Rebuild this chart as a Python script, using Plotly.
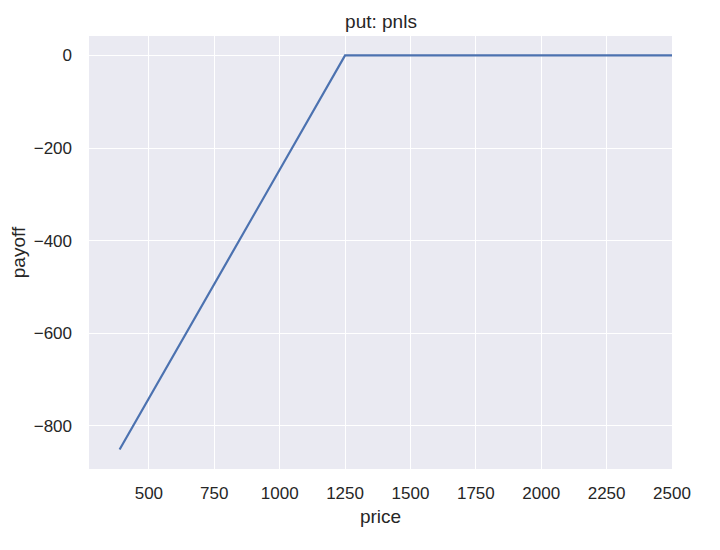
import plotly.graph_objects as go

price = [388, 1250, 2500]
payoff = [-851, 0, 0]
x_ticks = [500, 750, 1000, 1250, 1500, 1750, 2000, 2250, 2500]
y_ticks = [0, -200, -400, -600, -800]
y_tick_labels = ["0", "\u2212200", "\u2212400", "\u2212600", "\u2212800"]

fig = go.Figure()
fig.add_trace(go.Scatter(x=price, y=payoff, mode="lines",
                         line=dict(color="#4C72B0", width=2.2)))

font = "Liberation Sans, Arial, Helvetica, sans-serif"
W, H = 712, 542
fig.update_layout(
    width=W, height=H,
    margin=dict(l=81, r=48, t=28, b=81, autoexpand=False),
    paper_bgcolor="white",
    plot_bgcolor="#EAEAF2",
    showlegend=False,
    font=dict(family=font, size=17, color="#262626"),
    title=dict(text="put: pnls", x=(381 - 8) / W, xanchor="center",
               y=1 - 13 / H, yanchor="middle",
               font=dict(size=19, color="#262626")),
    xaxis=dict(range=[271, 2500], tickvals=x_ticks, showgrid=True,
               gridcolor="white", gridwidth=1.3, zeroline=False,
               showline=False, ticks="", ticklabelstandoff=12,
               title=dict(text="price", font=dict(size=19), standoff=7)),
    yaxis=dict(range=[-893, 42], tickvals=y_ticks, ticktext=y_tick_labels,
               showgrid=True, gridcolor="white", gridwidth=1.3,
               zeroline=False, showline=False, ticks="",
               ticklabelstandoff=16,
               title=dict(text="payoff", font=dict(size=19), standoff=6)),
)
fig.write_html("out.html")
